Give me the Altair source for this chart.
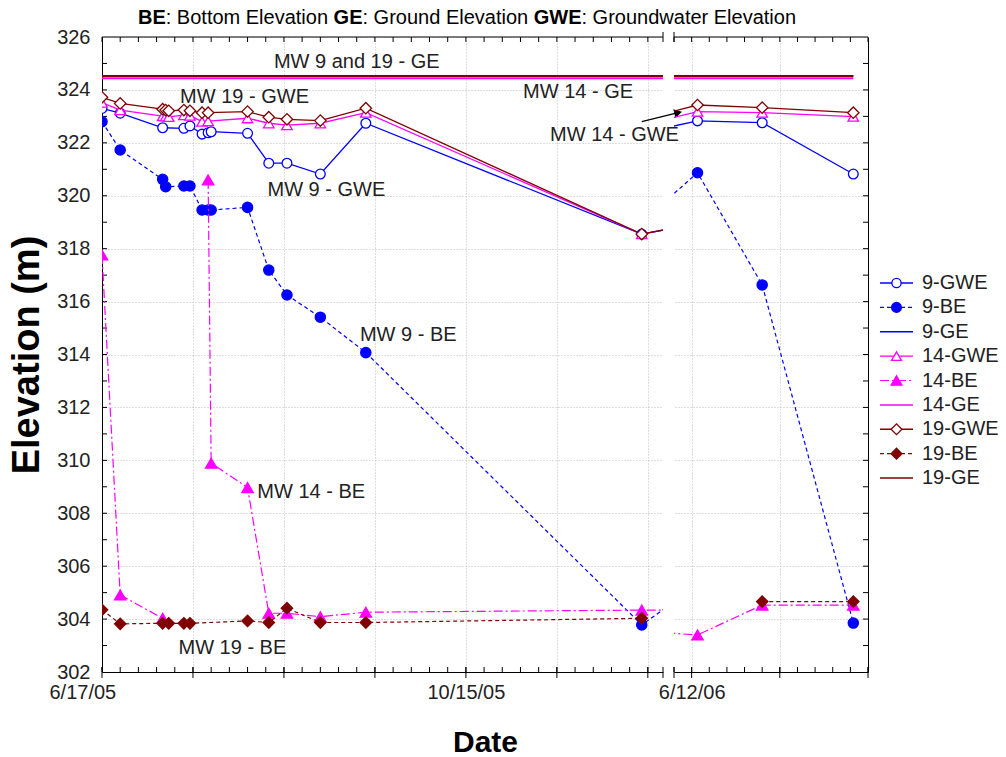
import altair as alt
import pandas as pd

FONT = "Liberation Sans"
TEXT = "#222222"
BLUE, MAGENTA, MAROON = "#0000ff", "#ff00ff", "#800000"

SERIES = ["9-GWE", "9-BE", "9-GE", "14-GWE", "14-BE", "14-GE", "19-GWE", "19-BE", "19-GE"]

# ---------------- data: elevations (m) ----------------
# 2006-02-09 lies inside the axis break: only the line stubs leaving / entering the break are visible
mw9_gwe_dates = ["2005-06-17", "2005-06-23", "2005-07-07", "2005-07-14", "2005-07-16", "2005-07-20",
                 "2005-07-22", "2005-07-23", "2005-08-04", "2005-08-11", "2005-08-17", "2005-08-28",
                 "2005-09-12", "2005-12-12", "2006-02-09", "2006-06-14", "2006-07-06", "2006-08-06"]
mw9_gwe = [323.30, 323.12, 322.57, 322.55, 322.64, 322.33, 322.38, 322.42, 322.36, 321.23, 321.23,
           320.82, 322.74, 318.55, 319.80, 322.83, 322.76, 320.82]

mw9_be_dates = ["2005-06-17", "2005-06-23", "2005-07-07", "2005-07-08", "2005-07-14", "2005-07-16",
                "2005-07-20", "2005-07-22", "2005-07-23", "2005-08-04", "2005-08-11", "2005-08-17",
                "2005-08-28", "2005-09-12", "2005-12-12", "2006-02-09", "2006-06-14", "2006-07-06",
                "2006-08-06"]
mw9_be = [322.80, 321.73, 320.62, 320.34, 320.37, 320.37, 319.46, 319.46, 319.46, 319.56, 317.19,
          316.25, 315.41, 314.07, 303.78, 308.60, 320.87, 316.63, 303.85]

mw14_19_gwe_dates = ["2005-06-17", "2005-06-23", "2005-07-07", "2005-07-08", "2005-07-09", "2005-07-14",
                     "2005-07-16", "2005-07-20", "2005-07-22", "2005-08-04", "2005-08-11", "2005-08-17",
                     "2005-08-28", "2005-09-12", "2005-12-12", "2006-02-09", "2006-06-14", "2006-07-06",
                     "2006-08-06"]
mw14_gwe = [323.52, 323.24, 323.01, 323.00, 322.98, 323.05, 323.03, 322.80, 322.82, 322.93, 322.74,
            322.67, 322.74, 323.14, 318.55, 319.80, 323.18, 323.14, 322.99]
mw19_gwe = [323.72, 323.49, 323.27, 323.24, 323.21, 323.24, 323.21, 323.14, 323.14, 323.18, 322.97,
            322.89, 322.84, 323.31, 318.55, 319.85, 323.43, 323.33, 323.14]

mw14_be_dates = ["2005-06-17", "2005-06-23", "2005-07-07", "2005-07-22", "2005-07-23", "2005-08-04",
                 "2005-08-11", "2005-08-17", "2005-08-28", "2005-09-12", "2005-12-12", "2006-02-09",
                 "2006-06-14", "2006-07-06", "2006-08-06"]
mw14_be = [317.76, 304.91, 304.03, 320.60, 309.89, 308.97, 304.22, 304.22, 304.09, 304.26, 304.34,
           304.34, 303.40, 304.53, 304.53]
mw14_be_run = [1, 1, 1, 2, 2, 2, 2, 2, 2, 2, 2, 2, 2, 2, 2]

mw19_be_dates = ["2005-06-17", "2005-06-23", "2005-07-07", "2005-07-09", "2005-07-14", "2005-07-16",
                 "2005-08-04", "2005-08-11", "2005-08-17", "2005-08-28", "2005-09-12", "2005-12-12",
                 "2006-07-06", "2006-08-06"]
mw19_be = [304.35, 303.82, 303.84, 303.84, 303.84, 303.84, 303.93, 303.87, 304.41, 303.87, 303.87,
           304.03, 304.66, 304.66]
mw19_be_run = [1, 1, 1, 1, 1, 1, 1, 1, 1, 1, 1, 1, 2, 2]

ge_dates = ["2005-06-17", "2006-08-06"]
mw9_ge = [324.53, 324.53]
mw14_ge = [324.44, 324.44]
mw19_ge = [324.53, 324.53]

ann_text = ["MW 9 and 19 - GE", "MW 19 - GWE", "MW 14 - GE", "MW 14 - GWE", "MW 9 - GWE",
            "MW 9 - BE", "MW 14 - BE", "MW 19 - BE"]
ann_date = ["2005-09-09", "2005-08-03", "2005-11-21", "2005-12-03", "2005-08-30",
            "2005-09-26", "2005-08-25", "2005-07-30"]
ann_elev = [325.05, 323.73, 323.92, 322.30, 320.22, 314.74, 308.82, 302.90]

arrow_dates = ["2005-12-12", "2005-12-24"]
arrow_elev = [322.80, 323.14]

title_parts = [("BE", True), (": Bottom Elevation ", False), ("GE", True),
               (": Ground Elevation ", False), ("GWE", True), (": Groundwater Elevation", False)]

y_label_values = list(range(302, 327, 2))
left_label_dates = ["2005-06-17", "2005-10-15"]
right_label_dates = ["2006-06-12"]


def frame(dates, vals, runs=None):
    return pd.DataFrame({"date": dates, "elev": vals, "run": runs if runs else [1] * len(dates)})


frames = {
    "9-GWE": frame(mw9_gwe_dates, mw9_gwe),
    "9-BE": frame(mw9_be_dates, mw9_be),
    "9-GE": frame(ge_dates, mw9_ge),
    "14-GWE": frame(mw14_19_gwe_dates, mw14_gwe),
    "14-BE": frame(mw14_be_dates, mw14_be, mw14_be_run),
    "14-GE": frame(ge_dates, mw14_ge),
    "19-GWE": frame(mw14_19_gwe_dates, mw19_gwe),
    "19-BE": frame(mw19_be_dates, mw19_be, mw19_be_run),
    "19-GE": frame(ge_dates, mw19_ge),
}

STYLE = {
    "9-GWE": dict(color=BLUE, width=1.3, shape="circle", open=True, size=95),
    "9-BE": dict(color=BLUE, width=1.2, dash=[4, 3], shape="circle", open=False, size=105),
    "9-GE": dict(color=BLUE, width=2),
    "14-GWE": dict(color=MAGENTA, width=1.3, shape="triangle-up", open=True, size=110),
    "14-BE": dict(color=MAGENTA, width=1.2, dash=[9, 3, 2, 3], shape="triangle-up", open=False, size=130),
    "14-GE": dict(color=MAGENTA, width=2),
    "19-GWE": dict(color=MAROON, width=1.3, shape="diamond", open=True, size=130),
    "19-BE": dict(color=MAROON, width=1.2, dash=[4, 3], shape="diamond", open=False, size=130),
    "19-GE": dict(color=MAROON, width=2),
}

# ---------------- layout ----------------
LW, RW, H, LEGW = 561, 194, 635, 120


def ms(d):
    return int(pd.Timestamp(d, tz="UTC").value // 10**6)


def days(start, n, step):
    return [(pd.Timestamp(start) + pd.Timedelta(days=step * k)).strftime("%Y-%m-%d") for k in range(n)]


def label_expr(dates):
    vals = ",".join(str(ms(d)) for d in dates)
    return ("indexof([" + vals + "], time(datum.value)) >= 0 ? "
            "utcFormat(datum.value, '%-m/%d/%y') : ''")


YSCALE = alt.Scale(domain=[302, 326], nice=False, zero=False)

XL = alt.X("date:T", title="Date",
           scale=alt.Scale(type="utc", domain=[ms("2005-06-17"), ms("2005-12-19")]),
           axis=alt.Axis(values=[ms(d) for d in days("2005-06-17", 7, 30)],
                         labelExpr=label_expr(left_label_dates), grid=True, ticks=False,
                         domain=True, labelPadding=10, titlePadding=25, titleX=383,
                         titleAlign="center", labelOverlap=False, labelFlush=True,
                         labelFlushOffset=53))
YL = alt.Y("elev:Q", title="Elevation (m)", scale=YSCALE,
           axis=alt.Axis(values=y_label_values, grid=True, ticks=False, domain=True,
                         labelPadding=12, titlePadding=10, titleFontSize=38))

XR = alt.X("date:T", title=None,
           scale=alt.Scale(type="utc", domain=[ms("2006-06-06"), ms("2006-08-11")]),
           axis=alt.Axis(values=[ms("2006-06-12"), ms("2006-07-12")],
                         labelExpr=label_expr(right_label_dates), grid=True, ticks=False,
                         domain=True, labelPadding=10, labelOverlap=False, labelFlush=False))
YR = alt.Y("elev:Q", title=None, scale=YSCALE,
           axis=alt.Axis(orient="right", values=y_label_values, grid=True, ticks=False,
                         labels=False, domain=True))

BLANK = alt.Data(values=[{}])


def series_layers(X, Y):
    out = []
    for name in SERIES:
        st = STYLE[name]
        d = frames[name]
        kw = dict(color=st["color"], strokeWidth=st["width"], clip=True)
        if "dash" in st:
            kw["strokeDash"] = st["dash"]
        out.append(alt.Chart(d).mark_line(**kw).encode(x=X, y=Y, detail="run:N"))
        if "shape" in st:
            out.append(alt.Chart(d).mark_point(
                shape=st["shape"], size=st["size"], filled=True, opacity=1, clip=True,
                fill="white" if st["open"] else st["color"], stroke=st["color"], strokeWidth=1.3
            ).encode(x=X, y=Y))
    return out


def frame_layers(X, Y, width, minor, major, cap_px, ytick_x):
    out = []
    mn = pd.DataFrame({"date": minor})
    mj = pd.DataFrame({"date": major})
    yt = pd.DataFrame({"elev": list(range(303, 326))})
    out.append(alt.Chart(mn).mark_rule(color="black").encode(x=X, y=alt.value(H - 5), y2=alt.value(H)))
    out.append(alt.Chart(mj).mark_rule(color="black").encode(x=X, y=alt.value(H - 5), y2=alt.value(H + 6)))
    out.append(alt.Chart(mn).mark_rule(color="black").encode(x=X, y=alt.value(0), y2=alt.value(5)))
    out.append(alt.Chart(yt).mark_rule(color="black").encode(
        y=Y, x=alt.value(ytick_x[0]), x2=alt.value(ytick_x[1])))
    out.append(alt.Chart(BLANK).mark_rule(color="black").encode(
        x=alt.value(0), x2=alt.value(width), y=alt.value(0)))
    out.append(alt.Chart(BLANK).mark_rule(color="black").encode(
        x=alt.value(cap_px), y=alt.value(H - 5), y2=alt.value(H + 6)))
    out.append(alt.Chart(BLANK).mark_rule(color="black").encode(
        x=alt.value(cap_px), y=alt.value(-5), y2=alt.value(5)))
    return out


# title with bold key words (Arial metrics to place the pieces)
W_REG = {" ": 278, ":": 278, "B": 667, "E": 667, "G": 778, "W": 944, "a": 556, "d": 556, "e": 556,
         "i": 222, "l": 222, "m": 833, "n": 556, "o": 556, "r": 333, "t": 278, "u": 556, "v": 500,
         "w": 722}
W_BOLD = {"B": 722, "E": 667, "G": 778, "W": 944}
TITLE_SIZE = 20


def twidth(s, bold):
    tab = W_BOLD if bold else W_REG
    return sum(tab.get(c, 556) for c in s) * TITLE_SIZE / 1000


total = sum(twidth(s, b) for s, b in title_parts)
x0 = 365 - total / 2
title_layers = []
for s, b in title_parts:
    title_layers.append(alt.Chart(BLANK).mark_text(
        align="left", baseline="middle", font=FONT, fontSize=TITLE_SIZE,
        fontWeight="bold" if b else "normal", color="#000000"
    ).encode(x=alt.value(x0), y=alt.value(-19), text=alt.value(s)))
    x0 += twidth(s, b)

ann_df = pd.DataFrame({"date": ann_date, "elev": ann_elev, "label": ann_text})
ann_layer = alt.Chart(ann_df).mark_text(font=FONT, fontSize=20, color=TEXT, align="center",
                                        baseline="middle").encode(x=XL, y=YL, text="label:N")

arrow_df = pd.DataFrame({"date": [arrow_dates[0]], "date2": [arrow_dates[1]],
                         "elev": [arrow_elev[0]], "elev2": [arrow_elev[1]]})
arrow_rule = alt.Chart(arrow_df).mark_rule(color="black", strokeWidth=1.2).encode(
    x=XL, x2="date2:T", y=YL, y2="elev2:Q")
arrow_head = alt.Chart(arrow_df).mark_point(shape="triangle-right", filled=True, opacity=1,
                                            color="black", size=80, angle=346).encode(
    x=alt.X("date2:T"), y=alt.Y("elev2:Q"))

left = alt.layer(
    *frame_layers(XL, YL, LW, days("2005-06-17", 31, 6), days("2005-06-17", 7, 30), LW, (0, 5)),
    *series_layers(XL, YL),
    ann_layer, arrow_rule, arrow_head, *title_layers,
).properties(width=LW, height=H)

right = alt.layer(
    *frame_layers(XR, YR, RW, days("2006-06-06", 12, 6),
                  ["2006-06-12", "2006-07-12", "2006-08-11"], 0, (RW - 5, RW)),
    *series_layers(XR, YR),
).properties(width=RW, height=H)

# legend panel
leg_df = pd.DataFrame({"idx": list(range(len(SERIES))), "name": SERIES})
LY = alt.Y("idx:Q", scale=alt.Scale(domain=[0, 8], range=[246, 441]), axis=None)
leg_layers = []
for i, name in enumerate(SERIES):
    st = STYLE[name]
    row = leg_df[leg_df["idx"] == i]
    kw = dict(color=st["color"], strokeWidth=st["width"] if st["width"] < 2 else 1.5)
    if "dash" in st:
        kw["strokeDash"] = st["dash"]
    leg_layers.append(alt.Chart(row).mark_rule(**kw).encode(y=LY, x=alt.value(1), x2=alt.value(34)))
    if "shape" in st:
        leg_layers.append(alt.Chart(row).mark_point(
            shape=st["shape"], size=st["size"] * 0.9, filled=True, opacity=1,
            fill="white" if st["open"] else st["color"], stroke=st["color"], strokeWidth=1.3
        ).encode(y=LY, x=alt.value(17.5)))
leg_layers.append(alt.Chart(leg_df).mark_text(
    align="left", baseline="middle", font=FONT, fontSize=20, color=TEXT
).encode(y=LY, x=alt.value(43), text="name:N"))
legend = alt.layer(*leg_layers).properties(width=LEGW, height=H)

chart = alt.hconcat(left, right, legend, spacing=11, bounds="flush").properties(
    padding={"left": 8, "top": 8, "right": 5, "bottom": 5}
).configure_view(stroke=None).configure_axis(
    labelFont=FONT, labelFontSize=20, labelColor=TEXT,
    titleFont=FONT, titleFontSize=30, titleFontWeight="bold", titleColor="#000000",
    gridColor="#bdbdbd", gridDash=[1, 2], gridWidth=1, domainColor="#000000", domainWidth=1,
)

chart.save("out.html", embed_options={"renderer": "svg", "actions": False})
